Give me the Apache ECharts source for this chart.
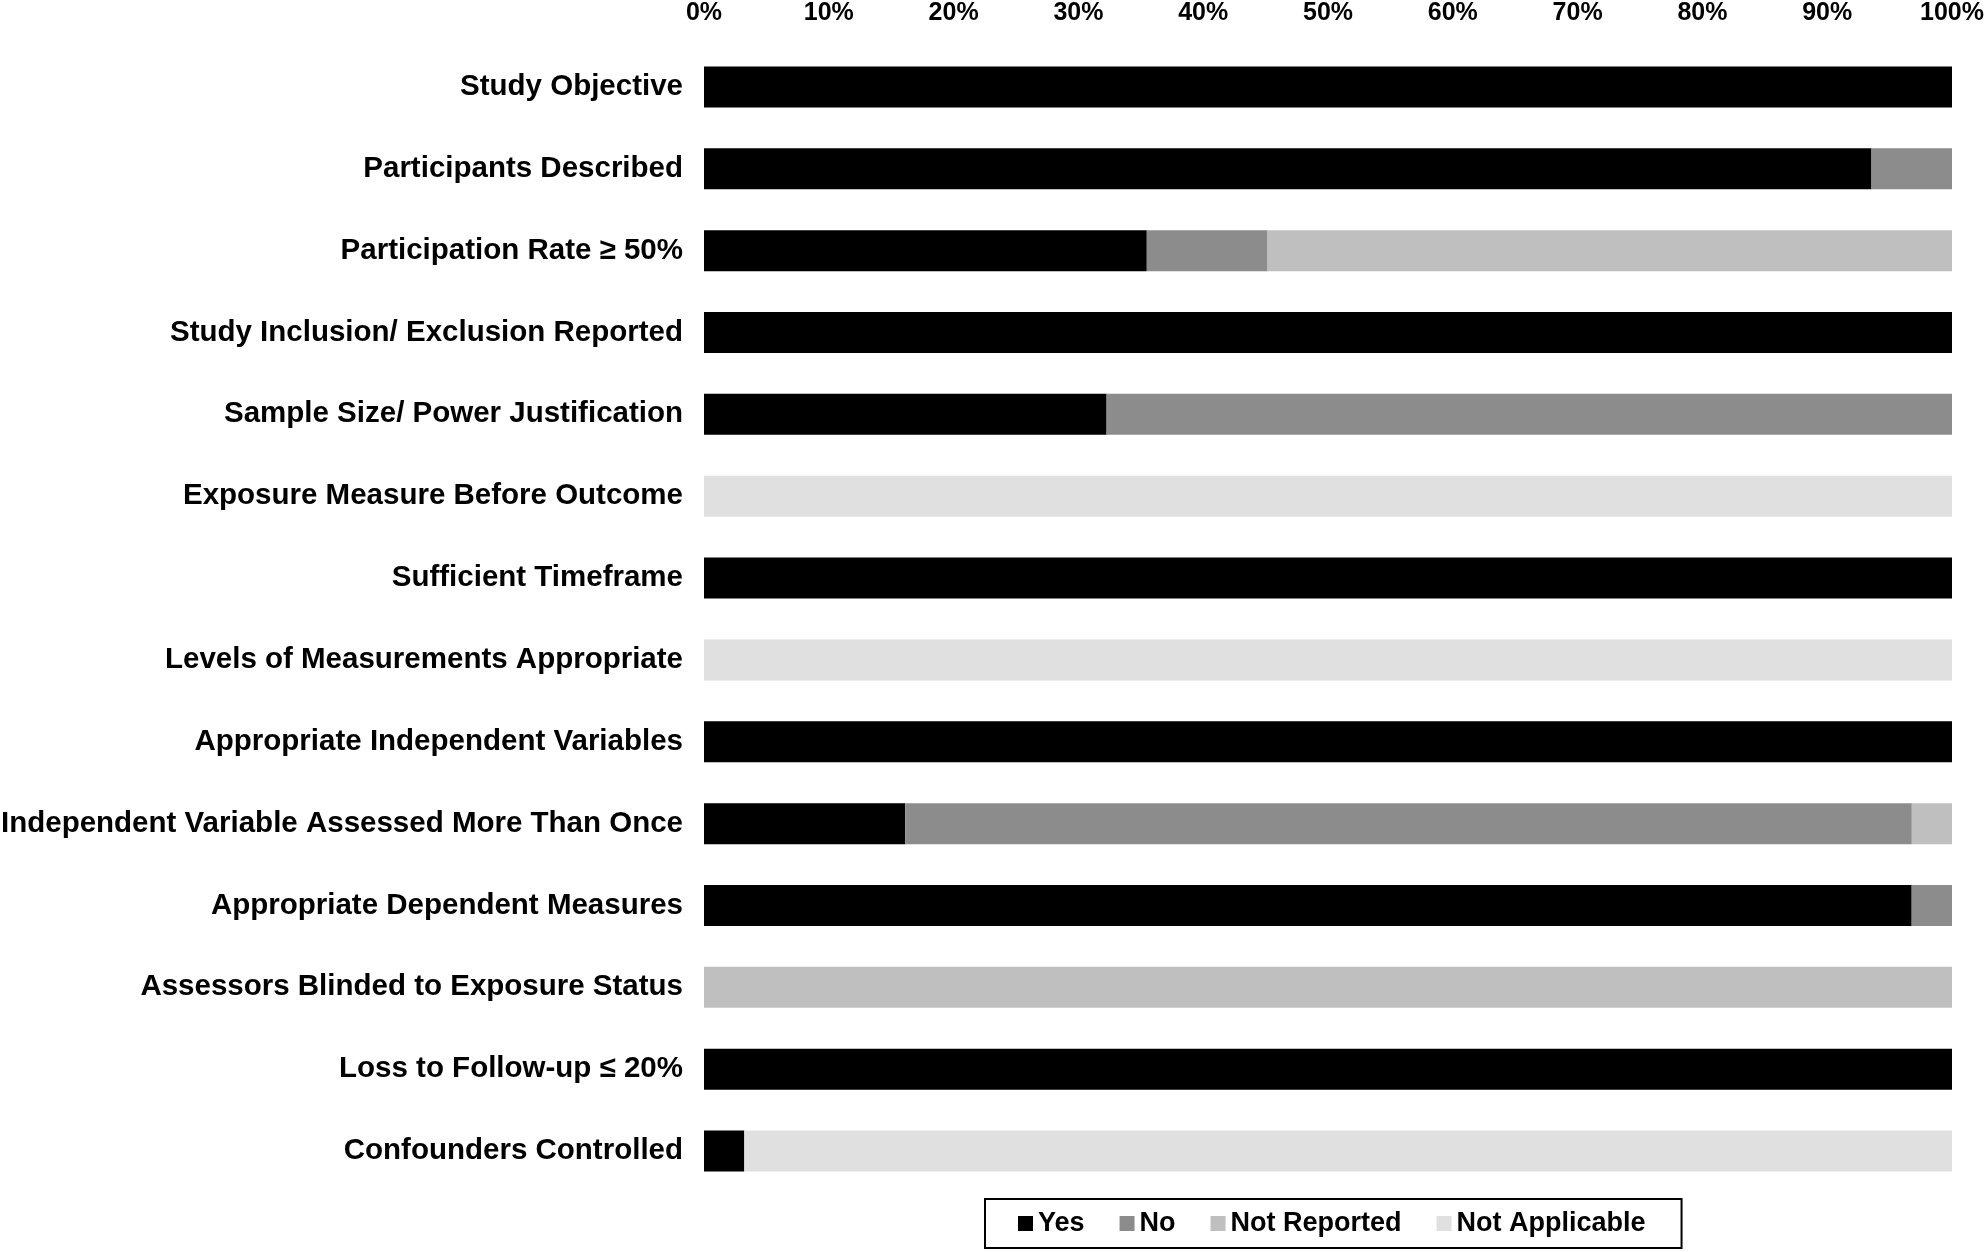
<!DOCTYPE html>
<html>
<head>
<meta charset="utf-8">
<title>Study quality assessment</title>
<script src="https://cdn.jsdelivr.net/npm/echarts@6/dist/echarts.min.js"></script>
<style>
  html, body { margin: 0; padding: 0; background: #fff; }
  #main { width: 1985px; height: 1252px; }
</style>
</head>
<body>
<div id="main"></div>
<script>
// criteria, top to bottom
var categories = [
  'Study Objective',
  'Participants Described',
  'Participation Rate \u2265 50%',
  'Study Inclusion/ Exclusion Reported',
  'Sample Size/ Power Justification',
  'Exposure Measure Before Outcome',
  'Sufficient Timeframe',
  'Levels of Measurements Appropriate',
  'Appropriate Independent Variables',
  'Independent Variable Assessed More Than Once',
  'Appropriate Dependent Measures',
  'Assessors Blinded to Exposure Status',
  'Loss to Follow-up \u2264 20%',
  'Confounders Controlled'
];

// percent of studies in each rating
var yesData   = [100, 93.55, 35.48, 100, 32.26, 0, 100, 0, 100, 16.13, 96.77, 0, 100, 3.23];
var noData    = [0, 6.45, 9.68, 0, 67.74, 0, 0, 0, 0, 80.65, 3.23, 0, 0, 0];
var notRepData = [0, 0, 54.84, 0, 0, 0, 0, 0, 0, 3.22, 0, 100, 0, 0];
var notAppData = [0, 0, 0, 0, 0, 100, 0, 100, 0, 0, 0, 0, 0, 96.77];

var tickLabels = ['0%', '10%', '20%', '30%', '40%', '50%', '60%', '70%', '80%', '90%', '100%'];

var seriesNames = ['Yes', 'No', 'Not Reported', 'Not Applicable'];
var seriesColors = ['#000000', '#8c8c8c', '#bfbfbf', '#e0e0e0'];
var seriesData = [yesData, noData, notRepData, notAppData];

var font = '"Liberation Sans", Arial, sans-serif';

var myChart = echarts.init(document.getElementById('main'));

var series = [];
seriesNames.forEach(function (name, i) {
  series.push({
    name: name,
    type: 'bar',
    stack: 'total',
    barWidth: 41,
    data: seriesData[i],
    itemStyle: { color: seriesColors[i] },
    emphasis: { disabled: true }
  });
});

var option = {
  backgroundColor: '#ffffff',
  animation: false,
  color: seriesColors,
  grid: {
    left: 704,
    right: 33,
    top: 46,
    bottom: 60,
    containLabel: false,
    outerBoundsMode: 'none'
  },
  legend: {
    data: seriesNames,
    left: 985,
    top: 1199,
    orient: 'horizontal',
    icon: 'rect',
    itemWidth: 15,
    itemHeight: 15,
    itemGap: 35,
    padding: [11, 36, 11, 33],
    borderColor: '#000',
    borderWidth: 2,
    textStyle: {
      fontFamily: font,
      fontWeight: 'bold',
      fontSize: 27,
      color: '#000'
    }
  },
  xAxis: {
    type: 'value',
    position: 'top',
    min: 0,
    max: 100,
    interval: 10,
    axisLine: { show: false },
    axisTick: { show: false },
    splitLine: { show: false },
    axisLabel: {
      margin: 20,
      fontFamily: font,
      fontWeight: 'bold',
      fontSize: 25,
      color: '#000',
      formatter: function (v) {
        return tickLabels[Math.round(v / 10)];
      }
    }
  },
  yAxis: {
    type: 'category',
    inverse: true,
    data: categories,
    axisLine: { show: false },
    axisTick: { show: false },
    splitLine: { show: false },
    axisLabel: {
      margin: 21,
      fontFamily: font,
      fontWeight: 'bold',
      fontSize: 29.5,
      color: '#000'
    }
  },
  series: series
};

myChart.setOption(option);
</script>
</body>
</html>
